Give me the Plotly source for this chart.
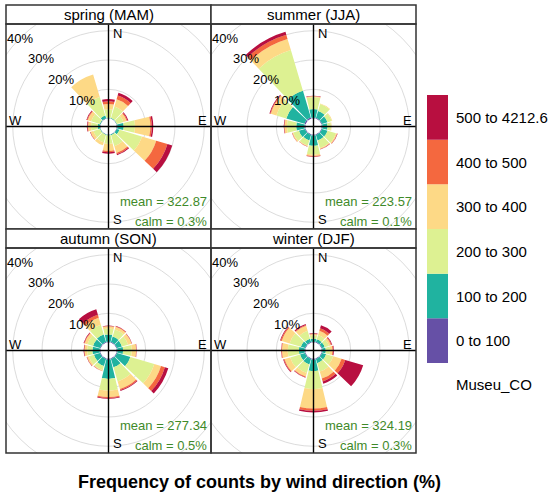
import plotly.graph_objects as go

W, H = 550, 499
FONT = "Liberation Sans, Arial, sans-serif"

DIRECTIONS = [0, 30, 60, 90, 120, 150, 180, 210, 240, 270, 300, 330]
BINS = ["0 to 100", "100 to 200", "200 to 300", "300 to 400", "400 to 500", "500 to 4212.6"]
COLORS = ["#6650A6", "#20B3A0", "#DDF192", "#FDD986", "#F4683F", "#B80F40"]
SEASONS = ["spring (MAM)", "summer (JJA)", "autumn (SON)", "winter (DJF)"]
MEANS = ["322.87", "223.57", "277.34", "324.19"]
CALMS = ["0.3%", "0.1%", "0.5%", "0.3%"]
GRID_PCT = [10, 20, 30, 40]
LEGEND_TITLE = "Museu_CO"
XLAB = "Frequency of counts by wind direction (%)"

# frequency (%) per direction, split by concentration bin
spring = [
    [0.1, 0.3, 2.8, 1.8, 0.9, 0.8],
    [0.1, 0.2, 4.1, 2.6, 1.3, 1.0],
    [0.1, 0.2, 2.3, 1.2, 0.3, 0.3],
    [0.3, 2.2, 3.9, 5.2, 0.5, 0.5],
    [0.2, 1.0, 8.0, 5.1, 4.0, 1.7],
    [0.1, 0.3, 3.9, 2.4, 0.5, 0.3],
    [0.1, 0.3, 2.9, 2.3, 0.5, 0.5],
    [0.1, 0.2, 2.7, 1.0, 0.0, 0.0],
    [0.1, 0.2, 2.4, 1.0, 0.1, 0.1],
    [0.2, 0.8, 2.3, 1.0, 0.2, 0.2],
    [0.1, 0.3, 3.1, 1.2, 0.3, 0.2],
    [0.2, 1.0, 6.6, 8.0, 0.0, 0.0],
]
summer = [
    [0.3, 3.0, 4.0, 0.3, 0.1, 0.1],
    [0.3, 2.5, 2.5, 0.2, 0.0, 0.0],
    [0.3, 2.0, 1.5, 0.2, 0.0, 0.0],
    [0.3, 1.8, 1.2, 0.2, 0.0, 0.0],
    [0.3, 2.0, 3.0, 0.4, 0.1, 0.1],
    [0.3, 2.0, 2.7, 0.3, 0.1, 0.1],
    [0.4, 3.5, 3.0, 0.5, 0.15, 0.15],
    [0.3, 2.0, 1.8, 0.3, 0.05, 0.05],
    [0.3, 2.2, 2.0, 0.4, 0.05, 0.05],
    [0.4, 2.8, 3.2, 0.8, 0.15, 0.15],
    [0.5, 6.5, 3.5, 2.0, 0.25, 0.25],
    [0.5, 9.5, 14.5, 4.0, 1.5, 1.0],
]
autumn = [
    [0.3, 2.5, 2.0, 0.8, 0.1, 0.1],
    [0.3, 2.0, 2.5, 1.0, 0.15, 0.15],
    [0.3, 1.8, 2.2, 1.2, 0.1, 0.1],
    [0.3, 2.0, 3.0, 1.5, 0.1, 0.1],
    [0.3, 4.8, 8.5, 2.4, 1.4, 1.2],
    [0.3, 3.0, 5.0, 2.7, 0.4, 0.3],
    [0.5, 6.5, 4.0, 2.2, 0.3, 0.3],
    [0.3, 2.5, 1.5, 0.3, 0.05, 0.05],
    [0.3, 2.2, 1.8, 0.6, 0.1, 0.1],
    [0.3, 2.5, 1.8, 0.9, 0.15, 0.15],
    [0.3, 2.5, 2.0, 1.0, 0.2, 0.2],
    [0.3, 2.7, 3.5, 2.5, 1.0, 2.0],
]
winter = [
    [0.3, 1.0, 1.2, 0.4, 0.2, 0.2],
    [0.3, 1.0, 1.5, 1.5, 0.9, 1.1],
    [0.3, 1.0, 1.5, 0.7, 0.3, 0.2],
    [0.3, 1.2, 1.5, 0.8, 0.3, 0.2],
    [0.3, 1.5, 2.5, 3.0, 1.3, 6.4],
    [0.3, 1.5, 3.0, 2.5, 1.0, 0.8],
    [0.5, 3.8, 6.2, 6.6, 0.8, 0.6],
    [0.3, 2.0, 3.0, 1.3, 0.2, 0.2],
    [0.3, 1.8, 3.5, 2.0, 0.3, 0.2],
    [0.3, 2.0, 3.8, 2.0, 0.2, 0.1],
    [0.3, 1.5, 4.0, 2.8, 0.4, 0.2],
    [0.3, 1.2, 2.8, 1.8, 0.3, 0.3],
]
SEASON_DATA = [spring, summer, autumn, winter]

# ---- geometry (pixels) ----
RMAX = 32.3      # radial axis max (%)
OFF = 2.7        # central hole expressed in % units
L = RMAX + OFF   # half-range of overlay cartesian axes
SEG = 0.9        # wedge width as fraction of the 30 degree sector

PANEL_X = [(6, 211), (211, 416), (6, 211), (211, 416)]
PANEL_Y = [(24, 229), (24, 229), (248, 453), (248, 453)]
STRIP_H = 19


def px(x):
    return x / W


def py(y):
    return 1 - y / H


fig = go.Figure()
shapes = []
annotations = []
layout = {}

for i in range(4):
    n = i + 1
    x0, x1 = PANEL_X[i]
    y0, y1 = PANEL_Y[i]
    pol = "polar" if n == 1 else f"polar{n}"
    xa = "x" if n == 1 else f"x{n}"
    ya = "y" if n == 1 else f"y{n}"
    xkey = "xaxis" if n == 1 else f"xaxis{n}"
    ykey = "yaxis" if n == 1 else f"yaxis{n}"

    layout[xkey] = dict(domain=[px(x0), px(x1)], range=[-L, L], visible=False,
                        fixedrange=True, anchor=ya)
    layout[ykey] = dict(domain=[py(y1), py(y0)], range=[-L, L], visible=False,
                        fixedrange=True, anchor=xa)
    fig.add_trace(go.Scatter(x=[None], y=[None], xaxis=xa, yaxis=ya,
                             showlegend=False, hoverinfo="skip"))

    layout[pol] = dict(
        domain=dict(x=[px(x0), px(x1)], y=[py(y1), py(y0)]),
        bgcolor="rgba(0,0,0,0)",
        hole=OFF / L,
        barmode="stack",
        radialaxis=dict(range=[0, RMAX], visible=False),
        angularaxis=dict(rotation=90, direction="clockwise", visible=False),
    )

    data = SEASON_DATA[i]
    for b, name in enumerate(BINS):
        fig.add_trace(go.Barpolar(
            r=[row[b] for row in data],
            theta=DIRECTIONS,
            width=[30 * SEG] * len(DIRECTIONS),
            marker=dict(color=COLORS[b], line=dict(width=0)),
            name=name, subplot=pol, showlegend=False, hoverinfo="skip",
        ))

    # grid circles (clipped to panel)
    for p in GRID_PCT:
        rr = p + OFF
        shapes.append(dict(type="circle", xref=xa, yref=ya, x0=-rr, x1=rr,
                           y0=-rr, y1=rr, line=dict(color="#DCDCDC", width=1),
                           layer="below"))
        annotations.append(dict(xref=xa, yref=ya, x=-rr / 2 ** 0.5, y=rr / 2 ** 0.5,
                                text=f"{p}%", showarrow=False,
                                font=dict(size=13, color="black", family=FONT)))
    # cross lines
    shapes.append(dict(type="line", xref=xa, yref=ya, x0=-L, x1=L, y0=0, y1=0,
                       line=dict(color="black", width=1.4), layer="above"))
    shapes.append(dict(type="line", xref=xa, yref=ya, x0=0, x1=0, y0=-L, y1=L,
                       line=dict(color="black", width=1.4), layer="above"))

    cx = (x0 + x1) / 2
    cy = (y0 + y1) / 2
    lab = dict(showarrow=False, xref="paper", yref="paper",
               font=dict(size=13, color="black", family=FONT))
    annotations.append(dict(lab, x=px(cx + 2), y=py(y0), text="N",
                            xanchor="left", yanchor="top"))
    annotations.append(dict(lab, x=px(cx + 2), y=py(y1), text="S",
                            xanchor="left", yanchor="bottom"))
    annotations.append(dict(lab, x=px(x1 - 2), y=py(cy + 3), text="E",
                            xanchor="right", yanchor="bottom"))
    annotations.append(dict(lab, x=px(x0 + 1), y=py(cy + 3), text="W",
                            xanchor="left", yanchor="bottom"))
    green = dict(showarrow=False, xref="paper", yref="paper", xanchor="right",
                 yanchor="middle", font=dict(size=13, color="#3F8A2A", family=FONT))
    annotations.append(dict(green, x=px(x1 - 2), y=py(y1 - 28),
                            text=f"mean = {MEANS[i]}"))
    annotations.append(dict(green, x=px(x1 - 2), y=py(y1 - 8),
                            text=f"calm = {CALMS[i]}"))

    # strip
    shapes.append(dict(type="rect", xref="paper", yref="paper", x0=px(x0), x1=px(x1),
                       y0=py(y0), y1=py(y0 - STRIP_H), fillcolor="white",
                       line=dict(color="#333333", width=1.5), layer="above"))
    annotations.append(dict(xref="paper", yref="paper", x=px(cx), y=py(y0 - STRIP_H / 2),
                            text=SEASONS[i], showarrow=False, xanchor="center",
                            yanchor="middle",
                            font=dict(size=15, color="black", family=FONT)))
    # panel border
    shapes.append(dict(type="rect", xref="paper", yref="paper", x0=px(x0), x1=px(x1),
                       y0=py(y1), y1=py(y0), line=dict(color="#333333", width=1.5),
                       layer="above"))

# legend key
KEY_X0, KEY_X1 = 427, 448
KEY_TOP, KEY_BOT = 95, 363
kh = (KEY_BOT - KEY_TOP) / len(BINS)
for b, name in enumerate(BINS):
    yb = KEY_BOT - b * kh
    yt = yb - kh
    shapes.append(dict(type="rect", xref="paper", yref="paper", x0=px(KEY_X0),
                       x1=px(KEY_X1), y0=py(yb), y1=py(yt), fillcolor=COLORS[b],
                       line=dict(width=0), layer="above"))
    annotations.append(dict(xref="paper", yref="paper", x=px(454), y=py((yb + yt) / 2),
                            text=name, showarrow=False, xanchor="left", yanchor="middle",
                            font=dict(size=15, color="black", family=FONT)))
annotations.append(dict(xref="paper", yref="paper", x=px(454), y=py(384),
                        text=LEGEND_TITLE, showarrow=False, xanchor="left",
                        yanchor="middle", font=dict(size=15, color="black", family=FONT)))

annotations.append(dict(xref="paper", yref="paper", x=px(259), y=py(482),
                        text=f"<b>{XLAB}</b>", showarrow=False, xanchor="center",
                        yanchor="middle", font=dict(size=18, color="black", family=FONT)))

fig.update_layout(
    width=W, height=H,
    margin=dict(l=0, r=0, t=0, b=0),
    paper_bgcolor="white", plot_bgcolor="rgba(0,0,0,0)",
    showlegend=False,
    shapes=shapes, annotations=annotations,
    **layout,
)

fig.write_html("out.html", config={"displayModeBar": False},
               post_script="document.body.style.margin='0';")
